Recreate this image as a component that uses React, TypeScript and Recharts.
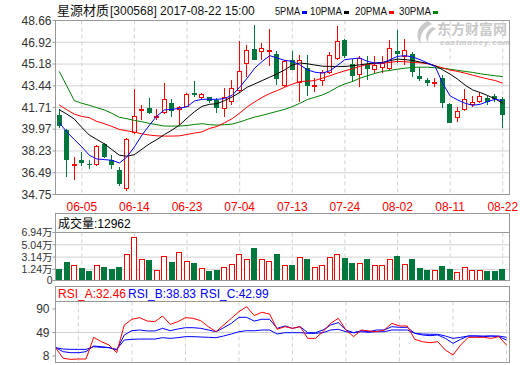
import React from "react";
import { ComposedChart, Bar, Line, XAxis, YAxis, CartesianGrid, ReferenceLine } from "recharts";

const DATES = [
  "05-31", "06-01", "06-02", "06-05", "06-06", "06-07", "06-08", "06-09", "06-12", "06-13",
  "06-14", "06-15", "06-16", "06-19", "06-20", "06-21", "06-22", "06-23", "06-26", "06-27",
  "06-28", "06-29", "06-30", "07-03", "07-04", "07-05", "07-06", "07-07", "07-10", "07-11",
  "07-12", "07-13", "07-14", "07-17", "07-18", "07-19", "07-20", "07-21", "07-24", "07-25",
  "07-26", "07-27", "07-28", "07-31", "08-01", "08-02", "08-03", "08-04", "08-07", "08-08",
  "08-09", "08-10", "08-11", "08-14", "08-15", "08-16", "08-17", "08-18", "08-21", "08-22",
];
const DATE_TICKS = ["06-05", "06-14", "06-23", "07-04", "07-13", "07-24", "08-02", "08-11", "08-22"];

const OPEN = [41.10, 39.90, 37.00, 37.49, 37.22, 37.08, 38.77, 37.54, 36.74, 35.15, 39.63, 41.45, 41.64, 40.83, 41.24, 42.09, 41.50, 41.77, 42.85, 42.50, 42.52, 42.31, 41.56, 42.18, 43.03, 45.20, 46.38, 46.11, 46.11, 46.00, 43.43, 45.47, 43.65, 44.85, 43.33, 43.84, 44.45, 45.58, 47.13, 45.20, 44.32, 45.20, 44.67, 44.85, 44.77, 46.19, 45.74, 46.00, 44.24, 43.92, 43.60, 44.05, 41.99, 40.84, 41.50, 41.91, 42.17, 42.44, 42.63, 42.36];
const HIGH = [41.60, 39.95, 37.75, 38.16, 37.54, 38.70, 38.83, 37.89, 36.95, 39.23, 43.17, 41.91, 42.44, 41.56, 43.65, 42.36, 41.85, 42.90, 43.86, 42.85, 42.55, 42.44, 43.25, 43.92, 47.05, 46.73, 48.34, 46.86, 47.99, 46.19, 45.52, 46.19, 45.93, 45.93, 44.05, 44.72, 46.11, 48.26, 47.19, 45.58, 45.79, 45.79, 45.79, 45.79, 47.08, 47.88, 47.19, 46.11, 44.93, 44.05, 44.05, 44.32, 42.09, 41.77, 43.19, 42.63, 42.98, 42.63, 42.79, 42.52];
const LOW = [40.10, 36.15, 35.88, 37.00, 36.82, 37.05, 37.70, 36.82, 35.40, 35.02, 39.60, 40.70, 41.18, 40.70, 41.18, 40.97, 40.30, 41.72, 42.52, 42.40, 42.10, 41.30, 40.97, 41.91, 42.84, 44.18, 45.47, 45.47, 44.99, 43.51, 43.38, 44.67, 42.17, 42.63, 42.98, 43.43, 44.40, 45.52, 45.66, 43.78, 43.33, 43.92, 44.45, 44.45, 44.72, 45.26, 45.12, 44.18, 43.86, 43.43, 43.33, 41.64, 40.43, 40.57, 41.45, 41.72, 42.04, 41.91, 42.17, 40.03];
const CLOSE = [40.20, 37.49, 37.16, 37.27, 37.20, 38.61, 37.75, 37.14, 35.56, 39.17, 41.02, 41.58, 41.24, 41.02, 42.36, 41.42, 41.75, 42.79, 42.74, 42.75, 42.20, 41.64, 42.52, 43.25, 44.59, 46.27, 45.47, 46.46, 46.27, 43.97, 45.44, 44.72, 45.52, 43.43, 43.51, 44.51, 45.93, 47.00, 45.79, 44.24, 45.66, 44.77, 45.12, 45.26, 46.46, 46.00, 46.27, 44.53, 44.00, 43.70, 43.78, 42.09, 40.49, 41.42, 42.36, 42.17, 42.63, 42.17, 42.36, 41.10];

const MA5 = [40.49, 39.76, 39.15, 38.56, 37.89, 37.59, 37.54, 37.49, 37.27, 37.75, 38.56, 39.50, 40.30, 41.02, 41.51, 41.56, 41.64, 41.77, 42.23, 42.36, 42.36, 42.36, 42.42, 42.68, 43.33, 44.05, 44.85, 45.39, 45.85, 45.66, 45.47, 45.39, 45.12, 44.72, 44.53, 44.45, 44.64, 45.07, 45.53, 45.60, 45.66, 45.39, 45.26, 45.26, 45.53, 45.79, 45.85, 45.74, 45.53, 45.26, 44.99, 43.65, 42.63, 42.31, 42.04, 41.88, 41.96, 42.18, 42.36, 42.26];
const MA10 = [41.53, 41.18, 40.78, 40.11, 39.50, 39.15, 38.80, 38.34, 37.89, 37.81, 37.94, 38.37, 38.80, 39.15, 39.55, 39.90, 40.30, 40.86, 41.37, 41.80, 41.96, 42.01, 42.26, 42.55, 42.90, 43.33, 43.59, 43.86, 44.13, 44.40, 44.72, 45.10, 45.26, 45.20, 45.10, 45.01, 44.99, 44.99, 44.99, 45.04, 45.12, 45.20, 45.26, 45.31, 45.44, 45.58, 45.53, 45.47, 45.34, 45.23, 45.04, 44.72, 44.37, 43.97, 43.49, 43.11, 42.90, 42.66, 42.39, 42.04];
const MA20 = [41.91, 41.53, 41.18, 40.99, 40.89, 40.59, 40.41, 40.19, 39.95, 39.84, 39.74, 39.60, 39.50, 39.44, 39.42, 39.42, 39.44, 39.55, 39.66, 39.76, 40.03, 40.19, 40.49, 40.81, 41.26, 41.75, 42.15, 42.52, 42.82, 43.06, 43.33, 43.57, 43.78, 43.81, 43.86, 44.05, 44.24, 44.45, 44.64, 44.80, 44.99, 45.15, 45.20, 45.26, 45.31, 45.39, 45.36, 45.31, 45.28, 45.20, 45.04, 44.88, 44.69, 44.59, 44.45, 44.29, 44.13, 43.99, 43.86, 43.65];
const MA30 = [44.59, 43.43, 42.26, 42.04, 41.88, 41.69, 41.51, 41.24, 40.92, 40.81, 40.67, 40.57, 40.43, 40.33, 40.22, 40.22, 40.22, 40.27, 40.35, 40.41, 40.33, 40.30, 40.33, 40.38, 40.54, 40.75, 40.94, 41.08, 41.24, 41.40, 41.56, 41.77, 42.04, 42.34, 42.52, 42.71, 42.98, 43.33, 43.59, 43.78, 44.05, 44.24, 44.43, 44.59, 44.67, 44.77, 44.85, 44.91, 44.93, 44.93, 44.88, 44.83, 44.77, 44.67, 44.59, 44.51, 44.40, 44.32, 44.24, 44.18];

// 成交量, 万股
const VOLUME = [1.27, 2.35, 1.99, 1.42, 0.96, 1.84, 1.68, 1.27, 1.58, 3.69, 6.17, 2.77, 2.66, 1.22, 3.38, 2.35, 4.00, 2.46, 2.19, 1.38, 0.96, 1.11, 1.53, 2.04, 3.54, 2.92, 4.47, 2.92, 2.61, 3.59, 1.99, 1.89, 3.23, 2.81, 1.68, 1.84, 3.08, 3.69, 2.97, 2.19, 2.19, 2.81, 1.99, 1.84, 2.77, 3.28, 2.04, 2.77, 1.42, 1.11, 1.11, 1.73, 1.27, 0.91, 1.53, 1.11, 1.11, 1.00, 1.00, 1.30];

const RSI_A = [22.6, 4.0, 2.2, 2.8, 2.8, 40.6, 33.0, 27.2, 13.8, 62.1, 72.1, 74.9, 69.1, 67.9, 77.8, 63.3, 67.9, 74.9, 73.8, 69.6, 59.2, 50.4, 62.1, 73.8, 85.3, 94.1, 78.5, 84.3, 81.3, 54.6, 59.2, 56.3, 59.2, 38.8, 38.8, 50.4, 65.0, 73.8, 53.4, 41.8, 53.4, 51.7, 50.4, 53.4, 65.0, 60.4, 60.4, 37.1, 33.0, 31.2, 33.0, 18.5, 9.8, 27.2, 40.6, 40.6, 40.6, 38.8, 41.8, 27.2];
const RSI_B = [22.6, 15.6, 13.8, 13.8, 15.6, 25.5, 24.3, 22.6, 18.5, 44.7, 52.2, 53.4, 51.7, 51.7, 56.3, 52.2, 55.1, 57.4, 57.4, 56.3, 53.4, 50.4, 57.4, 65.0, 75.5, 75.5, 69.0, 72.1, 72.1, 56.3, 60.4, 56.3, 59.2, 48.7, 48.7, 53.4, 62.1, 66.2, 53.4, 48.7, 52.2, 50.4, 53.4, 53.4, 59.2, 58.0, 58.0, 47.6, 44.7, 43.5, 44.7, 38.8, 30.1, 37.1, 42.9, 42.9, 41.8, 42.9, 41.8, 35.9];
const RSI_C = [22.6, 20.2, 19.6, 19.6, 19.6, 24.3, 23.1, 22.6, 19.6, 35.9, 37.1, 37.6, 37.6, 37.6, 40.0, 38.8, 40.0, 41.8, 41.8, 41.2, 40.6, 40.0, 42.9, 46.4, 50.4, 52.2, 52.0, 53.4, 53.4, 46.4, 48.7, 48.7, 48.7, 47.6, 47.6, 48.7, 53.4, 54.6, 50.4, 48.7, 50.4, 49.4, 50.4, 50.4, 53.4, 53.4, 53.4, 47.6, 46.4, 45.9, 45.9, 42.9, 38.8, 40.6, 42.9, 42.9, 42.9, 42.9, 42.9, 40.6];

const PRICE_TICKS = [34.75, 36.49, 38.23, 39.97, 41.71, 43.44, 45.18, 46.92, 48.66];
const VOL_TICKS = [1.24, 3.14, 5.04, 6.94];
const VOL_FLOOR = -0.48; // bottom of the volume axis, labelled "0"
const RSI_TICKS = [8, 49, 90];
const RSI_DOMAIN = [-3.3, 103.1];

const LAST_VOLUME = "12962";
const RSI_LAST = ["32.46", "38.83", "42.99"];

const RED = "#ff0000";
const GREEN = "#00773c";
const BLUE = "#0000ff";
const FRAME = "#999999";
const GRID = "#d2d2d2";
const FONT = "'Liberation Sans', Arial, 'Noto Sans CJK SC', sans-serif";
const CJK = "'Noto Sans CJK SC', sans-serif";

const MA_LEGEND = [
  { name: "5PMA", color: BLUE },
  { name: "10PMA", color: "#000000" },
  { name: "20PMA", color: RED },
  { name: "30PMA", color: "#008000" },
];

const rows = DATES.map((date, i) => ({
  date,
  open: OPEN[i],
  high: HIGH[i],
  low: LOW[i],
  close: CLOSE[i],
  span: [LOW[i], HIGH[i]],
  up: CLOSE[i] >= OPEN[i],
  ma5: MA5[i],
  ma10: MA10[i],
  ma20: MA20[i],
  ma30: MA30[i],
  vol: [VOL_FLOOR, VOLUME[i]],
  rsiA: RSI_A[i],
  rsiB: RSI_B[i],
  rsiC: RSI_C[i],
}));

function Candle(props: any) {
  const { x, y, width, height, payload } = props;
  if (!payload || x == null || y == null) return null;
  const top = Math.min(y, y + height);
  const h = Math.abs(height);
  const k = h / (payload.high - payload.low);
  const py = (v: number) => top + (payload.high - v) * k;
  const up = payload.close >= payload.open;
  const color = up ? RED : GREEN;
  const c = Math.floor(x + width / 2);
  const hi = Math.round(top);
  const lo = Math.round(top + h);
  const bt = Math.round(py(Math.max(payload.open, payload.close)));
  const bb = Math.max(Math.round(py(Math.min(payload.open, payload.close))), bt + 1);
  if (up) {
    if (bb - bt <= 1) {
      return (
        <g>
          <line x1={c + 0.5} x2={c + 0.5} y1={hi} y2={lo} stroke={color} />
          <line x1={c - 2} x2={c + 3} y1={bt + 0.5} y2={bt + 0.5} stroke={color} />
        </g>
      );
    }
    return (
      <g>
        <line x1={c + 0.5} x2={c + 0.5} y1={hi} y2={bt} stroke={color} />
        <line x1={c + 0.5} x2={c + 0.5} y1={bb} y2={lo} stroke={color} />
        <rect x={c - 1.5} y={bt + 0.5} width={4} height={bb - bt - 1} fill="#fff" stroke={color} />
      </g>
    );
  }
  return (
    <g>
      <line x1={c + 0.5} x2={c + 0.5} y1={hi} y2={lo} stroke={color} />
      <rect x={c - 2} y={bt} width={5} height={bb - bt} fill={color} />
    </g>
  );
}

function VolumeBar(props: any) {
  const { x, y, width, height, payload } = props;
  if (!payload || x == null || y == null) return null;
  const top = Math.round(Math.min(y, y + height));
  const bottom = Math.round(Math.max(y, y + height));
  const c = Math.floor(x + width / 2);
  if (payload.up) {
    return <rect x={c - 2.5} y={top + 0.5} width={5} height={Math.max(bottom - top - 1, 0)} fill="#fff" stroke={RED} />;
  }
  return <rect x={c - 3} y={top} width={6} height={bottom - top} fill={GREEN} />;
}

const yTick = { fontSize: 12, fill: "#333", fontFamily: FONT };

export default function App() {
  return (
    <div style={{ position: "fixed", left: 0, top: 0, width: 520, height: 365, background: "#fff" }}>
      <div style={{ position: "absolute", left: 0, top: 0 }}>
        <ComposedChart width={520} height={215} data={rows} margin={{ top: 20.5, right: 10.5, bottom: 0, left: 0 }}>
          <CartesianGrid vertical={false} stroke={GRID} />
          <CartesianGrid horizontal={false} stroke={GRID} strokeDasharray="4 3" />
          <XAxis
            dataKey="date"
            ticks={DATE_TICKS}
            interval={0}
            axisLine={false}
            tickLine={false}
            height={20.5}
            padding={{ left: 0, right: 3 }}
            tick={{ fontSize: 12, fill: RED, fontFamily: FONT }}
          />
          <YAxis
            type="number"
            domain={[PRICE_TICKS[0], PRICE_TICKS[PRICE_TICKS.length - 1]]}
            ticks={PRICE_TICKS}
            interval={0}
            allowDataOverflow
            width={55.5}
            axisLine={false}
            tickLine={{ stroke: FRAME }}
            tickSize={3}
            tickMargin={1}
            tickFormatter={(v: number) => v.toFixed(2)}
            tick={yTick}
          />
          <Bar dataKey="span" barSize={5} shape={Candle} isAnimationActive={false} />
          <Line dataKey="ma30" stroke="#008000" strokeWidth={1} dot={false} isAnimationActive={false} />
          <Line dataKey="ma20" stroke={RED} strokeWidth={1} dot={false} isAnimationActive={false} />
          <Line dataKey="ma10" stroke="#000000" strokeWidth={1} dot={false} isAnimationActive={false} />
          <Line dataKey="ma5" stroke={BLUE} strokeWidth={1} dot={false} isAnimationActive={false} />
        </ComposedChart>
      </div>

      <div style={{ position: "absolute", left: 0, top: 200 }}>
        <ComposedChart width={520} height={90} data={rows} margin={{ top: 32.5, right: 10.5, bottom: 9.5, left: 0 }}>
          <CartesianGrid vertical={false} stroke={GRID} />
          <CartesianGrid horizontal={false} stroke={GRID} strokeDasharray="4 3" />
          <XAxis dataKey="date" ticks={DATE_TICKS} interval={0} hide padding={{ left: 0, right: 3 }} />
          <YAxis
            type="number"
            domain={[VOL_FLOOR, VOL_TICKS[VOL_TICKS.length - 1]]}
            ticks={[VOL_FLOOR, ...VOL_TICKS]}
            interval={0}
            allowDataOverflow
            width={55.5}
            axisLine={false}
            tickLine={{ stroke: FRAME }}
            tickSize={3}
            tickMargin={0}
            tickFormatter={(v: number) => (v === VOL_FLOOR ? "0" : `${v.toFixed(2)}万`)}
            tick={{ fontSize: 10.5, fill: "#333", fontFamily: FONT }}
          />
          <Bar dataKey="vol" barSize={6} shape={VolumeBar} isAnimationActive={false} />
        </ComposedChart>
      </div>

      <div style={{ position: "absolute", left: 0, top: 290 }}>
        <ComposedChart width={520} height={75} data={rows} margin={{ top: 11.5, right: 10.5, bottom: 2.5, left: 0 }}>
          <CartesianGrid horizontal={false} stroke={GRID} strokeDasharray="4 3" />
          <XAxis dataKey="date" ticks={DATE_TICKS} interval={0} hide padding={{ left: 0, right: 3 }} />
          <YAxis
            type="number"
            domain={RSI_DOMAIN}
            ticks={RSI_TICKS}
            interval={0}
            allowDataOverflow
            width={55.5}
            axisLine={false}
            tickLine={{ stroke: FRAME }}
            tickSize={3}
            tickMargin={3}
            tick={yTick}
          />
          <ReferenceLine y={49} stroke={GRID} />
          <Line dataKey="rsiC" stroke={BLUE} strokeWidth={1} dot={false} isAnimationActive={false} />
          <Line dataKey="rsiB" stroke={BLUE} strokeWidth={1} dot={false} isAnimationActive={false} />
          <Line dataKey="rsiA" stroke={RED} strokeWidth={1} dot={false} isAnimationActive={false} />
        </ComposedChart>
      </div>

      <svg width={520} height={365} style={{ position: "absolute", left: 0, top: 0, pointerEvents: "none" }}>
        {/* title and legend */}
        <text x={57} y={15} fontSize={13} fontFamily={CJK} fill="#111">星源材质</text>
        <text x={110} y={15} fontSize={12} fontFamily={FONT} fill="#111">[300568] 2017-08-22 15:00</text>
        {MA_LEGEND.map((m, i) => {
          const xs = [275, 310, 355, 399];
          const ws = [25, 32, 32, 32];
          return (
            <g key={m.name}>
              <text x={xs[i]} y={14.5} fontSize={10.5} fontFamily={FONT} fill="#111" textLength={ws[i]} lengthAdjust="spacingAndGlyphs">
                {m.name}
              </text>
              <rect x={xs[i] + ws[i] + 2} y={11} width={5} height={3} fill={m.color} />
            </g>
          );
        })}

        {/* watermark */}
        <g fill="#c9c9c9">
          <path d="M428 21 C418 25 414 36 421 44 C419 36 423 28 432 24 Z" />
          <path d="M433 27 C426 30 424 37 428 42 C428 36 431 31 436 29 Z" />
          <text x={437} y={33.5} fontSize={14} fontWeight="bold" fontFamily={CJK}>东方财富网</text>
          <text x={440} y={44.5} fontSize={8} fontWeight="bold" fontStyle="italic" fontFamily={FONT} textLength={70}>eastmoney.com</text>
        </g>

        {/* panel frames */}
        <rect x={55.5} y={20.5} width={454} height={174} fill="none" stroke={FRAME} />
        <rect x={55.5} y={213.5} width={454} height={67} fill="none" stroke={FRAME} />
        <line x1={55.5} x2={509.5} y1={232.5} y2={232.5} stroke={FRAME} />
        <rect x={55.5} y={286.5} width={454} height={76} fill="none" stroke={FRAME} />
        <line x1={55.5} x2={509.5} y1={301.5} y2={301.5} stroke={FRAME} />

        {/* panel headers */}
        <text x={58} y={227.5} fontSize={12} fontFamily={FONT} fill="#000">成交量:{LAST_VOLUME}</text>
        <text x={58} y={298} fontSize={12} fontFamily={FONT} fill={RED}>RSI_A:{RSI_LAST[0]}</text>
        <text x={128} y={298} fontSize={12} fontFamily={FONT} fill={BLUE}>RSI_B:{RSI_LAST[1]}</text>
        <text x={200} y={298} fontSize={12} fontFamily={FONT} fill={BLUE}>RSI_C:{RSI_LAST[2]}</text>
      </svg>
    </div>
  );
}
